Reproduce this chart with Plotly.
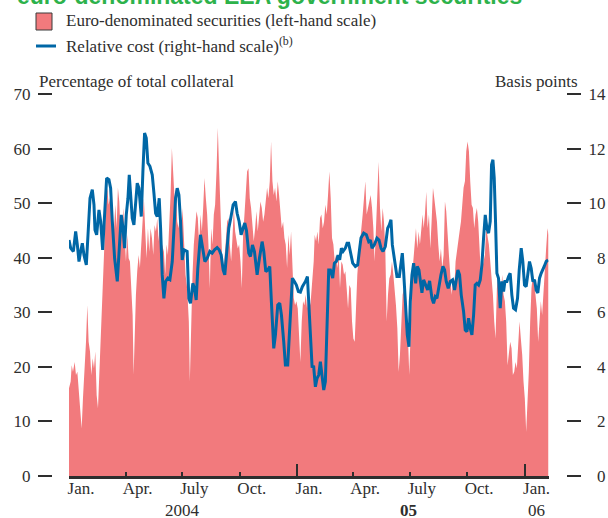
import pandas as pd
import plotly.graph_objects as go

START = pd.Timestamp("2004-01-01")
END = pd.Timestamp("2006-02-08 12:00")

# Euro-denominated securities, percentage of total collateral
# (days after 1 January 2004, value)
euro_days = [
    0.0, 2.7, 4.3, 6.4, 9.1, 11.2, 13.4, 15.5, 17.6, 20.3, 22.4, 25.1, 27.3, 29.4,
    31.5, 33.7, 35.8, 38.0, 40.1, 42.2, 44.4, 46.5, 48.6, 50.8, 52.9, 55.0, 57.2,
    59.3, 61.5, 63.6, 65.7, 67.9, 70.0, 72.1, 74.3, 76.4, 78.5, 80.7, 82.8, 85.0,
    87.1, 89.2, 91.4, 93.5, 95.7, 97.8, 99.9, 102.1, 103.7, 105.3, 107.4, 109.5,
    111.7, 113.8, 116.0, 118.1, 120.2, 122.4, 124.5, 126.7, 128.8, 130.9, 133.1,
    135.2, 137.3, 139.5, 141.6, 143.8, 145.9, 148.0, 150.2, 152.3, 154.4, 156.6,
    158.7, 160.8, 163.0, 165.1, 167.3, 169.4, 171.5, 173.7, 175.8, 178.0, 180.1,
    182.2, 184.4, 187.0, 189.6, 192.3, 193.9, 196.1, 198.2, 200.3, 202.5, 204.6,
    206.7, 208.9, 211.0, 213.2, 215.3, 217.4, 219.6, 221.7, 223.8, 226.0, 228.1,
    230.3, 232.4, 234.5, 236.7, 238.8, 241.0, 243.1, 245.2, 247.4, 249.5, 251.6,
    253.8, 255.9, 258.0, 260.2, 262.3, 264.5, 266.6, 268.7, 270.9, 273.0, 275.2,
    277.3, 279.4, 281.6, 283.7, 285.8, 288.0, 290.1, 292.2, 294.4, 296.5, 298.7,
    300.8, 302.9, 305.1, 307.2, 309.4, 311.5, 313.6, 315.8, 317.9, 320.0, 322.2,
    324.3, 326.5, 328.6, 330.7, 332.9, 335.0, 337.1, 339.3, 341.4, 343.6, 345.7,
    347.8, 350.0, 352.1, 354.2, 356.4, 358.5, 360.7, 362.8, 364.9, 367.1, 369.2,
    371.3, 373.5, 375.6, 377.8, 379.9, 382.0, 384.7, 387.4, 390.1, 392.7, 394.3,
    396.5, 398.6, 400.7, 402.9, 405.0, 407.2, 409.3, 411.4, 413.6, 415.7, 417.8,
    420.0, 422.1, 424.3, 426.4, 428.5, 430.7, 432.8, 434.9, 437.1, 439.2, 441.4,
    443.5, 445.6, 447.8, 449.9, 452.1, 454.2, 456.3, 458.5, 460.6, 462.7, 464.9,
    467.0, 469.2, 471.3, 473.4, 475.6, 477.7, 479.8, 482.0, 484.1, 486.3, 488.4,
    490.5, 492.7, 494.8, 496.9, 499.1, 501.2, 503.4, 505.5, 507.6, 509.8, 511.9,
    514.0, 516.2, 518.3, 520.5, 522.6, 524.7, 526.9, 529.0, 531.1, 533.3, 535.4,
    537.6, 539.7, 541.8, 544.0, 546.1, 548.2, 550.4, 552.5, 554.7, 556.8, 558.9,
    561.1, 563.2, 565.3, 567.5, 569.1, 571.2, 573.4, 575.5, 577.7, 579.8, 581.9,
    584.1, 586.2, 588.3, 590.5, 592.6, 594.8, 596.9, 599.0, 601.2, 603.3, 605.4,
    607.6, 609.7, 611.9, 614.0, 616.1, 618.3, 620.4, 622.5, 624.7, 626.8, 629.0,
    631.1, 633.2, 635.4, 637.5, 639.6, 641.8, 643.9, 646.1, 648.2, 650.3, 652.5,
    654.6, 656.7, 658.9, 661.0, 663.2, 665.3, 667.4, 669.6, 671.7, 673.8, 676.0,
    678.1, 680.3, 682.4, 684.5, 686.7, 688.8, 690.9, 693.1, 695.2, 697.4, 699.5,
    701.6, 703.8, 705.9, 708.0, 710.2, 712.3, 714.5, 716.6, 718.7, 720.9, 723.0,
    725.1, 727.3, 729.4, 731.5, 733.7, 735.8, 737.9, 740.1, 742.2, 744.4, 746.5,
    748.6, 750.8, 752.9, 755.1, 757.2, 759.3, 761.5, 763.6, 765.7, 767.9, 769.5,
]
euro_share = [
    16.1, 17.3, 20.3, 19.1, 20.9, 18.5, 19.1, 16.1, 12.4, 8.7, 14.2, 19.1, 24.6, 31.3,
    24.6, 22.8, 18.5, 21.6, 19.7, 22.8, 14.8, 12.4, 18.5, 25.2, 32.0, 40.5, 46.6,
    49.7, 52.8, 49.7, 50.9, 52.8, 47.9, 44.8, 49.7, 45.4, 52.8, 50.3, 44.2, 44.8,
    49.1, 44.2, 39.3, 44.2, 39.9, 39.3, 34.4, 29.5, 18.5, 25.8, 33.2, 37.5,
    40.5, 38.1, 42.4, 47.9, 50.9, 44.8, 39.9, 45.4, 41.1, 45.4, 43.6,
    40.5, 46.0, 44.8, 47.2, 43.0, 46.6, 43.0, 41.7, 41.1, 36.9, 42.4,
    40.5, 45.4, 51.5, 60.1, 55.8, 50.9, 52.8, 46.6, 45.4, 47.9, 44.2,
    49.1, 43.6, 36.9, 34.4, 28.3, 17.3, 28.3, 36.9, 42.4, 46.6, 48.5,
    47.3, 42.4, 47.9, 44.8, 49.1, 54.6, 50.9, 47.9, 42.4, 34.4, 45.4,
    42.4, 47.9, 49.7, 55.8, 63.8, 55.8, 47.9, 41.7, 36.9, 41.1, 43.0,
    46.6, 47.3, 42.4, 39.3, 43.6, 49.1, 44.8, 43.6, 41.7, 42.4, 39.3,
    34.4, 44.2, 47.9, 52.1, 55.8, 56.4, 50.9, 49.1, 45.4, 43.0, 45.4,
    48.5, 44.8, 47.9, 50.3, 49.1, 46.6, 47.9, 50.3, 52.8, 50.9, 54.0,
    61.3, 54.0, 51.5, 52.8, 50.3, 54.0, 51.5, 47.3, 45.4, 46.6, 43.6,
    42.4, 38.1, 44.2, 40.5, 44.8, 36.9, 32.6, 31.3, 32.0, 30.7, 25.8,
    20.9, 28.3, 32.0, 31.3, 33.2, 30.7, 33.2, 31.3, 35.0, 39.3, 44.2,
    43.0, 44.8, 42.4, 47.3, 47.9, 45.4, 46.6, 49.7, 47.9, 51.5, 55.8,
    50.9, 43.6, 42.4, 39.3, 40.5, 38.1, 40.5, 34.4, 39.3, 38.7, 36.9,
    37.5, 34.4, 30.7, 35.0, 34.4, 28.3, 25.2, 24.6, 32.0, 36.9, 40.5,
    42.4, 45.4, 47.9, 50.9, 54.0, 47.9, 49.1, 50.3, 51.5, 49.1, 45.4,
    39.3, 45.4, 50.3, 57.6, 49.1, 44.8, 49.1, 46.6, 41.7, 28.3, 33.2,
    36.2, 36.9, 39.3, 36.9, 34.4, 31.3, 27.1, 19.1, 22.2, 29.5, 33.2,
    34.4, 31.3, 28.3, 25.2, 18.5, 27.1, 34.4, 39.3, 43.0, 45.4, 41.7,
    44.8, 42.4, 45.4, 47.9, 45.4, 47.9, 52.1, 45.4, 47.9, 41.7, 46.6,
    52.8, 50.9, 48.9, 46.6, 42.4, 39.3, 41.7, 38.1, 40.5, 50.3, 48.5,
    43.6, 40.5, 36.9, 33.2, 35.6, 34.4, 39.3, 41.7, 43.0, 44.8, 46.6,
    49.7, 52.8, 54.0, 59.5, 61.3, 59.5, 54.0, 49.7, 49.1, 45.4, 47.9,
    49.1, 46.6, 41.7, 36.9, 38.1, 39.3, 40.5, 45.4, 43.6, 42.4, 39.3,
    36.9, 33.2, 28.3, 25.2, 34.4, 36.9, 35.6, 33.2, 36.9, 33.2, 32.0,
    28.3, 20.3, 22.2, 24.6, 23.4, 18.5, 19.1, 20.9, 19.7, 24.6, 28.3,
    25.2, 22.2, 17.3, 14.2, 8.1, 13.0, 19.1, 28.3, 34.4, 36.9, 35.6,
    33.2, 30.7, 24.6, 28.3, 32.0, 29.5, 34.4, 36.9, 41.7, 45.4, 44.2,
]

# Relative cost, basis points (days after 1 January 2004, value)
cost_days = [
    0.0, 2.7, 7.0, 10.7, 13.4, 16.0, 18.7, 21.4, 24.0, 27.8, 30.5, 33.7, 37.4, 40.1,
    41.7, 44.4, 48.1, 50.8, 54.0, 57.2, 60.4, 64.1, 66.8, 69.5, 73.2, 77.5, 81.2,
    83.9, 86.6, 89.2, 91.9, 94.6, 96.7, 98.9, 101.5, 104.2, 106.9, 109.5, 112.2,
    116.0, 118.6, 121.3, 124.0, 126.6, 129.9, 133.6, 136.3, 139.0, 141.6, 144.8,
    147.0, 149.6, 152.3, 155.0, 158.7, 161.9, 165.7, 168.3, 171.0, 173.7, 176.4,
    179.0, 181.7, 184.4, 189.6, 192.3, 195.0, 198.7, 201.4, 204.1, 206.7, 211.0,
    214.8, 218.0, 221.7, 226.0, 229.7, 233.5, 237.7, 240.9, 244.2, 247.4, 250.0,
    252.7, 256.4, 259.1, 263.4, 267.1, 269.8, 273.0, 276.2, 279.4, 282.1, 284.8,
    288.5, 291.2, 294.4, 297.6, 301.9, 305.6, 309.9, 312.6, 315.8, 319.0, 322.2,
    324.8, 328.6, 331.3, 335.0, 338.2, 340.9, 344.6, 347.3, 351.0, 353.7, 356.4,
    358.5, 361.7, 364.9, 368.1, 371.3, 374.5, 379.4, 382.6, 384.7, 387.4, 390.1,
    392.7, 395.4, 398.1, 400.7, 403.4, 406.1, 408.8, 411.4, 414.1, 416.8, 419.5,
    423.2, 425.9, 429.1, 431.7, 434.4, 437.1, 439.8, 443.5, 446.2, 448.8, 451.5,
    455.3, 459.5, 463.3, 466.5, 468.6, 472.9, 477.2, 480.9, 483.6, 486.3, 490.0,
    494.3, 497.5, 500.7, 503.9, 507.6, 511.4, 514.0, 516.7, 518.9, 522.1, 526.3,
    530.1, 532.7, 534.9, 537.0, 540.2, 542.9, 545.6, 547.7, 550.4, 553.1, 556.3,
    558.9, 561.6, 563.7, 566.4, 569.1, 572.8, 575.5, 578.7, 582.5, 585.1, 587.8,
    590.5, 593.1, 596.9, 600.1, 602.8, 605.4, 608.6, 611.9, 615.6, 618.8, 621.5,
    624.1, 626.8, 629.5, 633.2, 635.9, 638.6, 641.2, 643.9, 646.6, 649.3, 651.9,
    654.6, 657.3, 660.0, 662.6, 665.3, 668.0, 670.6, 673.3, 676.0, 678.1, 680.3,
    682.4, 684.5, 686.7, 689.3, 692.0, 694.7, 697.4, 699.5, 702.7, 705.4, 708.0,
    710.7, 713.4, 716.6, 719.8, 722.5, 725.7, 728.3, 731.0, 733.7, 736.4, 739.0,
    741.7, 744.4, 747.1, 749.7, 752.4, 755.1, 757.7, 760.4, 762.6, 765.8, 769.0,
]
cost_bp = [
    8.65, 8.35, 8.23, 8.96, 8.47, 7.86, 8.23, 8.53, 8.10, 7.74, 8.84, 10.18, 10.49, 9.94,
    9.02, 8.84, 9.75, 9.33, 8.29, 9.57, 10.92, 10.86, 10.55, 9.33, 7.98, 7.13, 8.35,
    9.57, 9.08, 8.35, 9.57, 10.18, 11.04, 10.18, 9.45, 9.20, 10.18, 10.73, 10.55,
    9.51, 11.16, 12.57, 12.39, 11.47, 11.35, 11.04, 10.37, 9.63, 9.51, 10.18,
    9.08, 7.37, 6.51, 7.13, 7.25, 7.20, 7.86, 9.08, 10.18, 10.55, 10.30,
    9.33, 7.92, 8.29, 8.23, 6.51, 6.33, 7.06, 6.88, 6.45, 7.61, 8.84,
    8.35, 7.86, 7.98, 8.23, 8.17, 8.29, 8.37, 8.29, 8.10, 7.55, 7.37,
    7.98, 9.08, 9.39, 9.94, 10.06, 9.63, 9.33, 8.84, 9.08, 9.27, 9.00,
    8.17, 8.04, 8.47, 8.23, 7.37, 7.98, 8.59, 8.23, 7.49, 7.55, 7.68,
    6.39, 4.68, 5.17, 6.27, 6.33, 5.90, 4.92, 4.07, 4.07, 5.41, 6.39,
    7.25, 7.13, 7.00, 6.76, 6.74, 6.94, 7.13, 7.31, 6.39, 5.17, 4.01,
    4.00, 3.27, 3.58, 3.70, 4.19, 3.58, 3.15, 3.46, 5.41, 7.55, 7.55,
    7.25, 7.80, 7.86, 8.10, 7.92, 8.35, 8.23, 8.35, 8.53, 8.53, 8.23,
    7.80, 7.68, 7.74, 8.35, 8.72, 8.90, 8.84, 8.59, 8.65, 8.35, 8.47,
    8.72, 8.65, 8.35, 8.23, 8.41, 9.08, 9.20, 9.39, 8.47, 7.98, 7.31,
    7.31, 7.86, 8.17, 7.49, 6.39, 5.17, 4.74, 6.39, 7.37, 7.80, 7.06,
    7.68, 7.55, 7.13, 6.71, 7.19, 7.00, 6.82, 7.15, 6.51, 6.33, 6.57,
    6.51, 6.88, 7.37, 7.68, 7.55, 7.13, 6.88, 7.13, 7.19, 6.82, 7.13,
    7.55, 7.37, 6.63, 6.03, 5.35, 5.29, 5.78, 5.41, 5.17, 5.90, 7.00,
    7.06, 7.00, 7.19, 7.74, 8.72, 9.57, 9.08, 8.90, 9.33, 11.41, 11.59,
    10.92, 9.33, 7.43, 7.25, 6.15, 7.13, 6.76, 7.13, 7.13, 7.31, 7.43,
    6.63, 6.15, 6.09, 6.51, 7.55, 8.35, 7.86, 7.00, 6.94, 7.49, 7.86,
    7.61, 7.13, 7.19, 6.82, 6.71, 7.25, 7.43, 7.55, 7.68, 7.86, 7.92,
]

month_ticks = ["2004-01-01", "2004-04-01", "2004-07-01", "2004-10-01",
               "2005-01-01", "2005-04-01", "2005-07-01", "2005-10-01", "2006-01-01"]
month_labels = ["Jan.", "Apr.", "July", "Oct.", "Jan.", "Apr.", "July", "Oct.", "Jan."]
year_ticks = ["2004-01-01", "2005-01-01", "2006-01-01"]
year_label_dates = ["2004-07-01", "2005-06-29", "2006-01-20"]
year_labels = ["2004", "<b>05</b>", "06"]

left_ticks = [0, 10, 20, 30, 40, 50, 60, 70]
right_ticks = [0, 2, 4, 6, 8, 10, 12, 14]

euro_dates = START + pd.to_timedelta(euro_days, unit="D")
cost_dates = START + pd.to_timedelta(cost_days, unit="D")

PINK = "#F27A7D"
BLUE = "#0067A6"
INK = "#2E2E2E"
FONT = "Liberation Serif"
FS = 17

# page geometry (pixels) used for legend/axis placement
W, H = 608, 518
ML, MR, MT, MB = 20, 20, 94, 42
PW, PH = W - ML - MR, H - MT - MB


def px(x):
    return (x - ML) / PW


def py(y):
    return (H - MB - y) / PH


fig = go.Figure()
fig.add_trace(go.Scatter(
    x=euro_dates, y=euro_share, mode="lines", fill="tozeroy",
    fillcolor=PINK, line=dict(width=0, color=PINK),
    xaxis="x", yaxis="y", showlegend=False, hoverinfo="skip",
))
fig.add_trace(go.Scatter(
    x=cost_dates, y=cost_bp, mode="lines",
    line=dict(width=3, color=BLUE),
    xaxis="x", yaxis="y2", showlegend=False, hoverinfo="skip",
))
# carrier for the long year ticks
fig.add_trace(go.Scatter(x=[START], y=[0], mode="markers", marker=dict(opacity=0),
                         xaxis="x2", yaxis="y", showlegend=False, hoverinfo="skip"))

x_dom = [px(69), px(548.5)]
fig.update_layout(
    template="none",
    width=W, height=H,
    margin=dict(l=ML, r=MR, t=MT, b=MB),
    paper_bgcolor="white", plot_bgcolor="white",
    font=dict(family=FONT, size=FS, color=INK),
    xaxis=dict(
        domain=x_dom, type="date", range=[START, END],
        tickmode="array", tickvals=month_ticks, ticktext=month_labels,
        ticks="inside", ticklen=4, tickwidth=2, tickcolor=INK,
        ticklabelshift=12, ticklabelstandoff=-5,
        showline=True, linecolor=INK, linewidth=3,
        showgrid=False, zeroline=False, automargin=False,
        anchor="y",
    ),
    xaxis2=dict(
        domain=x_dom, type="date", range=[START, END],
        overlaying="x", anchor="y", side="bottom",
        tickmode="array", tickvals=year_ticks, showticklabels=False,
        ticks="inside", ticklen=12, tickwidth=2, tickcolor=INK,
        showline=False, showgrid=False, zeroline=False, automargin=False,
    ),
    yaxis=dict(
        range=[0, 70], tickmode="array", tickvals=left_ticks,
        anchor="free", position=px(52), side="left",
        ticks="outside", ticklen=14, tickwidth=2, tickcolor=INK,
        ticklabelstandoff=4,
        showline=False, showgrid=False, zeroline=False, automargin=False,
    ),
    yaxis2=dict(
        range=[0, 14], tickmode="array", tickvals=right_ticks,
        ticktext=[("\u2007" + str(v)) if v < 10 else str(v) for v in right_ticks],
        anchor="free", position=px(566), side="right", overlaying="y",
        ticks="outside", ticklen=14, tickwidth=2, tickcolor=INK,
        ticklabelstandoff=4,
        showline=False, showgrid=False, zeroline=False, automargin=False,
    ),
)

annotations = [
    dict(text="Percentage of total collateral", xref="paper", yref="paper",
         x=px(37), y=py(81), xanchor="left", yanchor="middle", showarrow=False),
    dict(text="Basis points", xref="paper", yref="paper",
         x=px(580), y=py(81), xanchor="right", yanchor="middle", showarrow=False),
    dict(text="Euro-denominated securities (left-hand scale)", xref="paper", yref="paper",
         x=px(64), y=py(21), xanchor="left", yanchor="middle", showarrow=False),
    dict(text="Relative cost (right-hand scale)<sup>(b)</sup>", xref="paper", yref="paper",
         x=px(64), y=py(45), xanchor="left", yanchor="middle", showarrow=False),
    dict(text="<b>euro-denominated EEA government securities</b>", xref="paper", yref="paper",
         x=px(15), y=py(11), xanchor="left", yanchor="bottom", showarrow=False,
         font=dict(family="Liberation Sans", size=23, color="#2DB24B")),
]
for d, lab in zip(year_label_dates, year_labels):
    annotations.append(dict(text=lab, xref="x", yref="paper", x=d, y=py(511),
                            xanchor="center", yanchor="middle", showarrow=False))
fig.update_layout(annotations=annotations)

fig.update_layout(shapes=[
    dict(type="rect", xref="paper", yref="paper",
         x0=px(36), x1=px(52), y0=py(30), y1=py(13),
         fillcolor=PINK, line=dict(color="#3A3A3A", width=1)),
    dict(type="line", xref="paper", yref="paper",
         x0=px(36), x1=px(56), y0=py(46), y1=py(46),
         line=dict(color=BLUE, width=3)),
])

fig.write_html("out.html")
